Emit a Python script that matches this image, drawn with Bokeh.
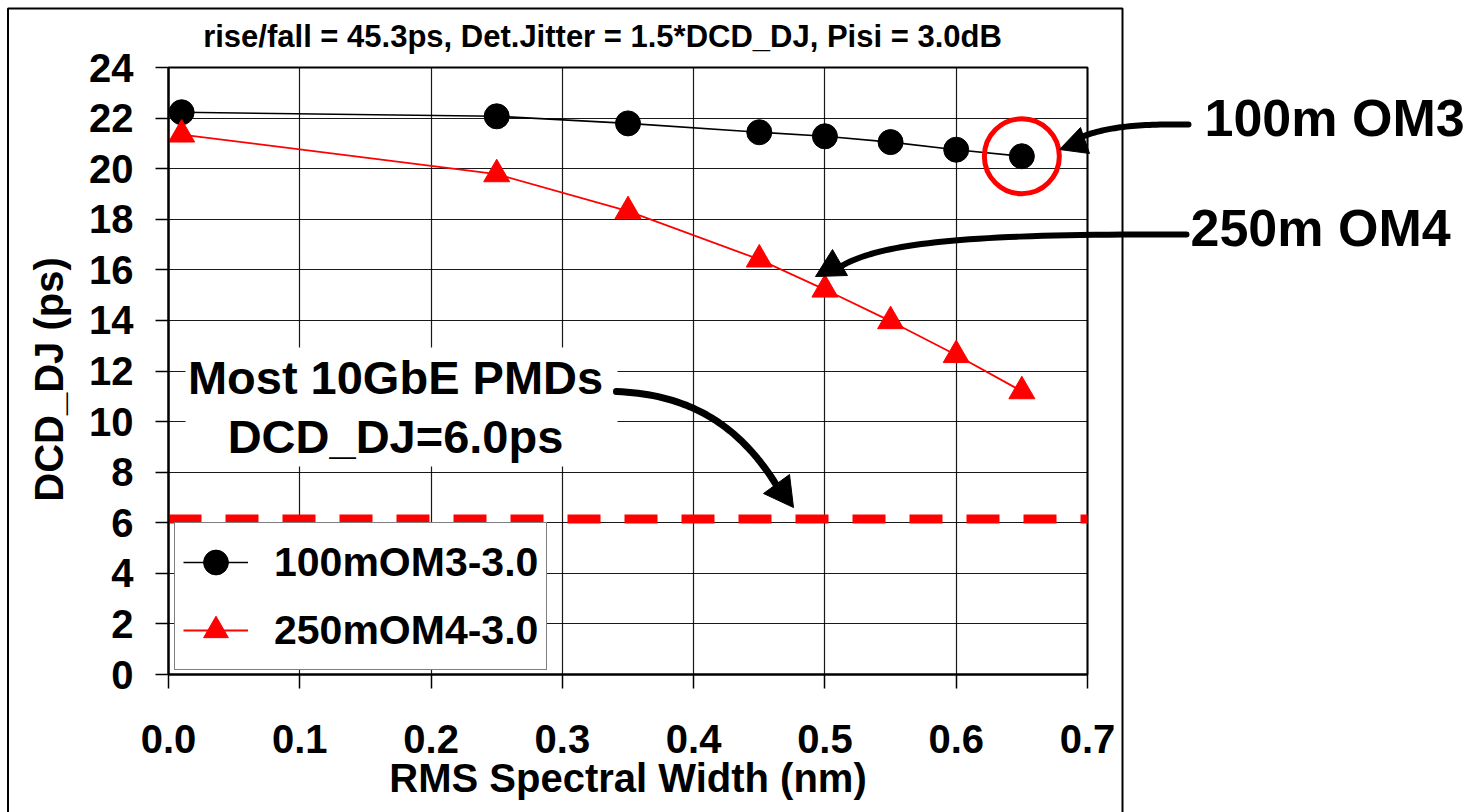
import math
from bokeh.plotting import figure
from bokeh.models import (Range1d, FixedTicker, PrintfTickFormatter, Legend, LegendItem,
                          Label, PolyAnnotation, BoxAnnotation)
from bokeh.embed import file_html
from bokeh.resources import INLINE

# ---------------- data ----------------
x_nm = [0.01, 0.25, 0.35, 0.45, 0.50, 0.55, 0.60, 0.65]
dj_100m_om3 = [22.23, 22.07, 21.79, 21.44, 21.28, 21.05, 20.75, 20.49]
dj_250m_om4 = [21.35, 19.78, 18.32, 16.41, 15.22, 13.97, 12.63, 11.20]
pmd_x = [0.0, 0.7]
pmd_dj = [6.15, 6.15]
series_names = ["100mOM3-3.0", "250mOM4-3.0"]
x_ticks = [0.0, 0.1, 0.2, 0.3, 0.4, 0.5, 0.6, 0.7]
y_ticks = [0, 2, 4, 6, 8, 10, 12, 14, 16, 18, 20, 22, 24]
x_lim = (0.0, 0.7)
y_lim = (0, 24)
title_text = "rise/fall = 45.3ps, Det.Jitter = 1.5*DCD_DJ, Pisi = 3.0dB"
x_label = "RMS Spectral Width (nm)"
y_label = "DCD_DJ (ps)"
note_om3 = "100m OM3"
note_om4 = "250m OM4"
note_pmd = ["Most 10GbE PMDs", "DCD_DJ=6.0ps"]

FONT = "Liberation Sans"
W, H = 1479, 812
# page-pixel layout of the plotting area: x 0..0.7 -> 168..1087, y 0..24 -> 674..67
PX0, PX1, PY0, PY1 = 168.0, 1087.0, 674.0, 67.0
XS = (PX1 - PX0) / (x_lim[1] - x_lim[0])
YS = (PY0 - PY1) / (y_lim[1] - y_lim[0])

def dx(px):
    return x_lim[0] + (px - PX0) / XS

def dy(py):
    return y_lim[0] + (PY0 - py) / YS

def cubic(p0, p1, p2, p3, n=40):
    xs, ys = [], []
    for i in range(n + 1):
        t = i / n
        a, b, c, d = (1 - t) ** 3, 3 * (1 - t) ** 2 * t, 3 * (1 - t) * t ** 2, t ** 3
        xs.append(a * p0[0] + b * p1[0] + c * p2[0] + d * p3[0])
        ys.append(a * p0[1] + b * p1[1] + c * p2[1] + d * p3[1])
    return xs, ys

# the frame covers the whole canvas; axes are pinned at x=0 / y=0 (fixed_location)
p = figure(width=W, height=H, x_range=Range1d(dx(0), dx(W)), y_range=Range1d(dy(H), dy(0)),
           output_backend="svg", toolbar_location=None,
           min_border=0, min_border_left=0, min_border_right=0, min_border_top=0,
           min_border_bottom=0)
p.background_fill_color = "white"
p.border_fill_color = "white"
p.outline_line_color = None

xa = p.xaxis[0]
ya = p.yaxis[0]
xa.fixed_location = y_lim[0]
ya.fixed_location = x_lim[0]
xa.ticker = FixedTicker(ticks=x_ticks)
xa.formatter = PrintfTickFormatter(format="%.1f")
ya.ticker = FixedTicker(ticks=y_ticks)
xa.bounds = x_lim
ya.bounds = y_lim
for ax in (xa, ya):
    ax.axis_line_color = "black"
    ax.axis_line_width = 2
    ax.major_tick_line_color = "black"
    ax.major_tick_line_width = 1.5
    ax.major_tick_in = 0
    ax.minor_tick_in = 0
    ax.minor_tick_out = 0
    ax.major_label_text_font = FONT
    ax.major_label_text_font_style = "bold"
    ax.major_label_text_font_size = "40px"
    ax.major_label_text_color = "black"
xa.major_tick_out = 14
ya.major_tick_out = 13
xa.major_label_standoff = 36
ya.major_label_standoff = 22

p.xgrid.ticker = FixedTicker(ticks=x_ticks)
p.ygrid.ticker = FixedTicker(ticks=y_ticks)
p.xgrid.bounds = x_lim
p.xgrid.cross_bounds = y_lim
p.ygrid.bounds = y_lim
p.ygrid.cross_bounds = x_lim
for g in (p.xgrid, p.ygrid):
    g.grid_line_color = "black"
    g.grid_line_width = 1.2
    g.grid_line_alpha = 0.9

# outline of the plotting area
p.add_layout(BoxAnnotation(left=x_lim[0], right=x_lim[1], bottom=y_lim[0], top=y_lim[1],
                           fill_alpha=0, line_color="black", line_alpha=1.0, line_width=2,
                           level="underlay"))

def poly(xs, ys, **kw):
    p.add_layout(PolyAnnotation(xs=list(xs), ys=list(ys), xs_units="canvas", ys_units="canvas", **kw))

# outer chart frame
poly([7.5, 1122, 1122, 7.5], [8, 8, 840, 840], fill_alpha=0, line_color="black",
     line_alpha=1.0, line_width=2)

# white box behind the PMD note (canvas pixels)
p.add_layout(BoxAnnotation(left=185, right=617, top=347, bottom=466,
                           left_units="canvas", right_units="canvas",
                           top_units="canvas", bottom_units="canvas",
                           fill_color="white", fill_alpha=1.0, line_alpha=0))

# series
r1l = p.line(x_nm, dj_100m_om3, line_color="black", line_width=1.6)
r1s = p.scatter(x_nm, dj_100m_om3, marker="circle", size=25, fill_color="black", line_color="black")
r2l = p.line(x_nm, dj_250m_om4, line_color="red", line_width=1.8)
r2s = p.scatter(x_nm, dj_250m_om4, marker="triangle", size=26, fill_color="red", line_color="red")
p.line(pmd_x, pmd_dj, line_color="red", line_width=9, line_dash="33 24")
p.scatter([x_nm[-1]], [dj_100m_om3[-1]], marker="circle", size=75, fill_alpha=0,
          line_color="red", line_width=5)

legend = Legend(items=[LegendItem(label=series_names[0], renderers=[r1l, r1s]),
                       LegendItem(label=series_names[1], renderers=[r2l, r2s])],
                location=(174, H - 670), glyph_width=65, glyph_height=62, label_standoff=26,
                spacing=6, padding=8, margin=0,
                label_text_font=FONT, label_text_font_size="41px", label_text_font_style="bold",
                label_text_color="black",
                border_line_color="black", border_line_width=1.5,
                background_fill_color="white", background_fill_alpha=1.0)
p.add_layout(legend)

def note(x, baseline, text, size, align="left"):
    p.add_layout(Label(x=x, y=baseline - 0.39 * size, x_units="canvas", y_units="canvas", text=text,
                       text_align=align, text_baseline="alphabetic", text_font=FONT,
                       text_font_style="bold", text_font_size=f"{size}px", text_color="black"))

note(602, 48.5, title_text, 31, "center")
note(627.5, 793, x_label, 40, "center")
p.add_layout(Label(x=48, y=379, x_units="canvas", y_units="canvas", text=y_label, angle=math.pi / 2,
                   text_align="center", text_baseline="middle", text_font=FONT,
                   text_font_style="bold", text_font_size="40px", text_color="black"))
note(1204, 138, note_om3, 52)
note(1190, 247.5, note_om4, 52)
note(395, 395, note_pmd[0], 47, "center")
note(395, 454, note_pmd[1], 47, "center")

# curved arrows
def curve(p0, p1, p2, p3, width=6):
    xs, ys = cubic(p0, p1, p2, p3)
    poly(xs + xs[::-1], ys + ys[::-1], fill_alpha=0, line_color="black", line_alpha=1.0,
         line_width=width, line_join="round")

def head(pts):
    poly([a for a, b in pts], [b for a, b in pts], fill_color="black", fill_alpha=1.0,
         line_color="black", line_alpha=1.0, line_width=1)

curve((1188, 124), (1130, 123), (1095, 128), (1072, 141))
head([(1059, 149), (1080, 127), (1089, 153)])

curve((1186, 234), (960, 233), (880, 243), (840, 266))
head([(832, 249), (815, 276), (847, 275)])

curve((616, 391), (690, 394), (740, 425), (778, 488), width=7)
head([(793, 507), (763, 493), (789, 474)])

open("out.html", "w").write(file_html(p, INLINE))
